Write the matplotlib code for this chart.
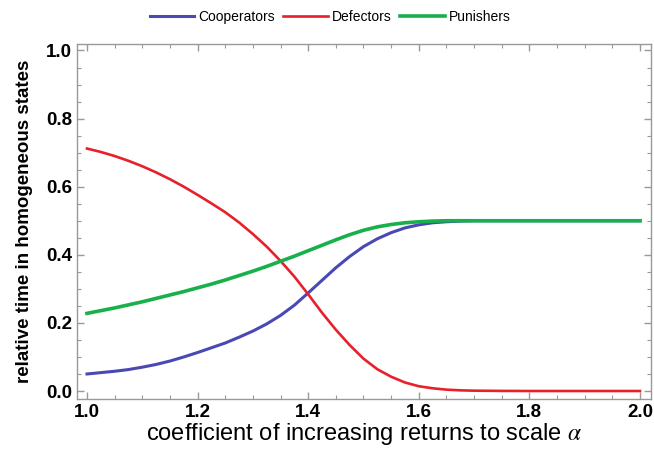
import numpy as np
import matplotlib
matplotlib.use("Agg")
import matplotlib.pyplot as plt
from matplotlib.ticker import MultipleLocator

# alpha values (coefficient of increasing returns to scale)
alpha = [1.0, 1.025, 1.05, 1.075, 1.1, 1.125, 1.15, 1.175, 1.2, 1.225,
         1.25, 1.275, 1.3, 1.325, 1.35, 1.375, 1.4, 1.425, 1.45, 1.475,
         1.5, 1.525, 1.55, 1.575, 1.6, 1.625, 1.65, 1.675, 1.7, 1.75,
         1.8, 1.9, 2.0]

cooperators = [0.050, 0.054, 0.058, 0.063, 0.070, 0.078, 0.088, 0.100, 0.113, 0.127,
               0.141, 0.158, 0.176, 0.197, 0.222, 0.252, 0.288, 0.325, 0.362, 0.395,
               0.424, 0.447, 0.465, 0.479, 0.488, 0.494, 0.497, 0.499, 0.500, 0.500,
               0.500, 0.500, 0.500]

defectors = [0.712, 0.702, 0.690, 0.676, 0.660, 0.642, 0.622, 0.600, 0.576, 0.551,
             0.525, 0.495, 0.461, 0.424, 0.382, 0.336, 0.284, 0.230, 0.180, 0.135,
             0.095, 0.064, 0.042, 0.025, 0.014, 0.008, 0.004, 0.002, 0.001, 0.0003,
             0.0, 0.0, 0.0]

punishers = [0.228, 0.236, 0.244, 0.253, 0.262, 0.272, 0.282, 0.292, 0.303, 0.314,
             0.326, 0.339, 0.352, 0.366, 0.381, 0.396, 0.412, 0.428, 0.444, 0.459,
             0.472, 0.482, 0.489, 0.494, 0.497, 0.499, 0.500, 0.500, 0.500, 0.500,
             0.500, 0.500, 0.500]

plt.rcParams['font.family'] = ['Liberation Sans', 'DejaVu Sans']
plt.rcParams['mathtext.fontset'] = 'stix'

fig = plt.figure(figsize=(6.54, 4.5), dpi=100)
ax = fig.add_axes([0.1177, 0.1133, 0.8777, 0.7889])

ax.plot(alpha, cooperators, color='#4a48b4', lw=2.2, label='Cooperators')
ax.plot(alpha, defectors, color='#e8202a', lw=1.9, label='Defectors')
ax.plot(alpha, punishers, color='#18b04a', lw=2.6, label='Punishers')

ax.set_xlim(0.9819, 2.0199)
ax.set_ylim(-0.0235, 1.019)

ax.xaxis.set_major_locator(MultipleLocator(0.2))
ax.xaxis.set_minor_locator(MultipleLocator(0.05))
ax.yaxis.set_major_locator(MultipleLocator(0.2))
ax.yaxis.set_minor_locator(MultipleLocator(0.05))
ax.xaxis.set_major_formatter(plt.FormatStrFormatter('%.1f'))
ax.yaxis.set_major_formatter(plt.FormatStrFormatter('%.1f'))

frame_col = '#999999'
for s in ax.spines.values():
    s.set_color(frame_col)
    s.set_linewidth(1.0)
ax.tick_params(which='both', direction='in', top=True, right=True,
               color=frame_col, labelsize=13.5)
ax.tick_params(which='major', length=5, width=1)
ax.tick_params(which='minor', length=3, width=0.8)
for lab in ax.get_xticklabels() + ax.get_yticklabels():
    lab.set_fontweight('bold')

ax.set_xlabel(r'coefficient of increasing returns to scale $\alpha$', fontsize=17, labelpad=0)
ax.set_ylabel('relative time in homogeneous states', fontsize=13.5, fontweight='bold', labelpad=9)

fig.legend(loc='center', bbox_to_anchor=(0.505, 0.962), ncol=3, frameon=False,
           fontsize=10, handlelength=3.2, handletextpad=0.3, columnspacing=0.6)

fig.savefig('out.png', dpi=100)
